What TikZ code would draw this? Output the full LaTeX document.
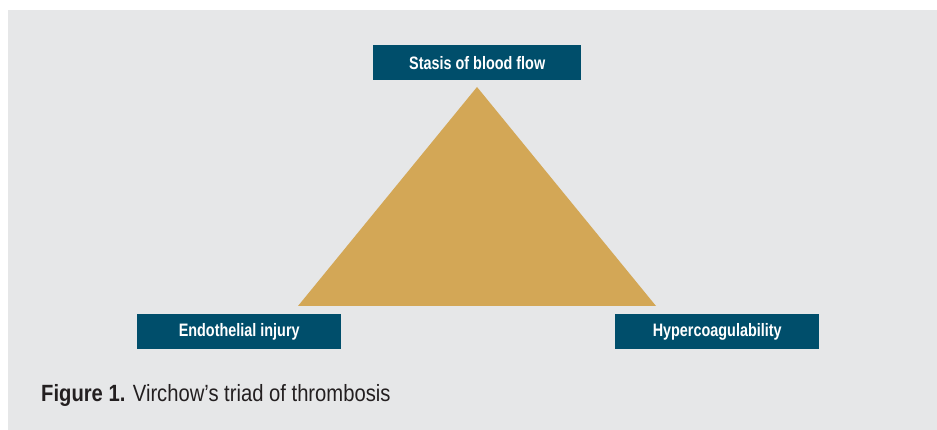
\documentclass[tikz,border=0pt]{standalone}
\usepackage{fontspec}
\setmainfont{Liberation Sans}[FakeStretch=0.80]
\newfontfamily\capfont{Liberation Sans}[FakeStretch=0.86]
\definecolor{bg}{HTML}{E6E7E8}
\definecolor{boxc}{HTML}{004E6B}
\definecolor{tri}{HTML}{D3A756}
\definecolor{capc}{HTML}{231F20}
\tikzset{
  labelbox/.style={fill=boxc, text=white, font=\fontsize{18}{21}\selectfont\bfseries,
    minimum width=#1, minimum height=35pt, inner sep=0pt, anchor=north west},
}
\begin{document}
\begin{tikzpicture}[x=1pt,y=-1pt]
\useasboundingbox (0,0) rectangle (937,430);
\fill[bg] (8,10) rectangle (937,430);
\coordinate (apex) at (477,87);
\coordinate (bl) at (298,306);
\coordinate (br) at (656,306);
\fill[tri] (apex) -- (bl) -- (br) -- cycle;
\node[labelbox=208pt] (stasis) at (373,45) {Stasis of blood flow};
\node[labelbox=204pt] (endo) at (137,314) {Endothelial injury};
\node[labelbox=204pt] (hyper) at (615,314) {Hypercoagulability};
\node[anchor=base west, inner sep=0pt, text=capc, font=\capfont\fontsize{23.5}{28}\selectfont] (cap) at (41,401) {\textbf{Figure 1.} Virchow’s triad of thrombosis};
\end{tikzpicture}
\end{document}
